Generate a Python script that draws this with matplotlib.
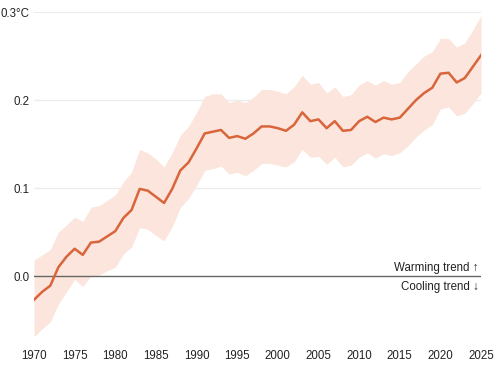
import matplotlib
matplotlib.use("Agg")
import matplotlib.pyplot as plt

years = list(range(1970, 2026))

trend = [
    -0.027, -0.018, -0.011, 0.010, 0.022, 0.031, 0.024, 0.038, 0.039, 0.045,
    0.051, 0.066, 0.075, 0.099, 0.097, 0.090, 0.083, 0.099, 0.120, 0.129,
    0.145, 0.162, 0.164, 0.166, 0.157, 0.159, 0.156, 0.162, 0.170, 0.170,
    0.168, 0.165, 0.172, 0.186, 0.176, 0.178, 0.168, 0.176, 0.165, 0.166,
    0.176, 0.181, 0.175, 0.180, 0.178, 0.180, 0.190, 0.200, 0.208, 0.214,
    0.230, 0.231, 0.220, 0.225, 0.238, 0.251,
]

upper = [
    0.018, 0.024, 0.030, 0.050, 0.058, 0.067, 0.062, 0.078, 0.080, 0.086,
    0.092, 0.107, 0.118, 0.144, 0.140, 0.133, 0.124, 0.140, 0.160, 0.170,
    0.186, 0.204, 0.207, 0.207, 0.197, 0.200, 0.197, 0.203, 0.212, 0.212,
    0.210, 0.207, 0.215, 0.228, 0.218, 0.220, 0.208, 0.215, 0.204, 0.206,
    0.217, 0.222, 0.217, 0.222, 0.218, 0.220, 0.232, 0.241, 0.250, 0.255,
    0.270, 0.270, 0.260, 0.265, 0.280, 0.296,
]

lower = [
    -0.069, -0.060, -0.052, -0.032, -0.018, -0.004, -0.012, 0.000, 0.001, 0.006,
    0.010, 0.025, 0.033, 0.055, 0.053, 0.046, 0.040, 0.056, 0.078, 0.088,
    0.103, 0.120, 0.122, 0.125, 0.116, 0.118, 0.114, 0.120, 0.128, 0.128,
    0.126, 0.124, 0.130, 0.144, 0.135, 0.136, 0.127, 0.135, 0.124, 0.126,
    0.135, 0.140, 0.134, 0.139, 0.137, 0.140, 0.148, 0.158, 0.166, 0.172,
    0.190, 0.192, 0.182, 0.185, 0.196, 0.208,
]

x_ticks = list(range(1970, 2026, 5))
y_ticks = [0.1, 0.2, 0.3]
y_labels = ["0.1", "0.2", "0.3°C"]

plt.rcParams["font.family"] = ["Liberation Sans", "DejaVu Sans"]

fig = plt.figure(figsize=(4.98, 3.65), dpi=100)
ax = fig.add_axes([0.0683, 0.063, 0.8977, 0.904])

for y in y_ticks:
    ax.axhline(y, color="#ececec", linewidth=0.9, zorder=0)

ax.fill_between(years, lower, upper, color="#fbe5dc", linewidth=0, zorder=2)
ax.axhline(0, color="#666666", linewidth=1.0, zorder=3)
ax.plot(years, trend, color="#d9653b", linewidth=1.8, zorder=4)

ax.set_xlim(1970, 2025)
ax.set_ylim(-0.075, 0.3)

ax.set_xticks(x_ticks)
ax.set_xticklabels([str(x) for x in x_ticks])
ax.set_yticks([0.0] + y_ticks)
ax.set_yticklabels(["0.0"] + y_labels)
ax.tick_params(axis="both", length=0, labelsize=8.3, colors="#222222")
ax.tick_params(axis="x", pad=6)
ax.tick_params(axis="y", pad=3)

for spine in ax.spines.values():
    spine.set_visible(False)

ax.text(2024.7, 0.009, "Warming trend \u2191", ha="right", va="center",
        fontsize=8.3, color="#222222", zorder=5)
ax.text(2024.7, -0.013, "Cooling trend \u2193", ha="right", va="center",
        fontsize=8.3, color="#222222", zorder=5)

fig.savefig("out.png", dpi=100)
